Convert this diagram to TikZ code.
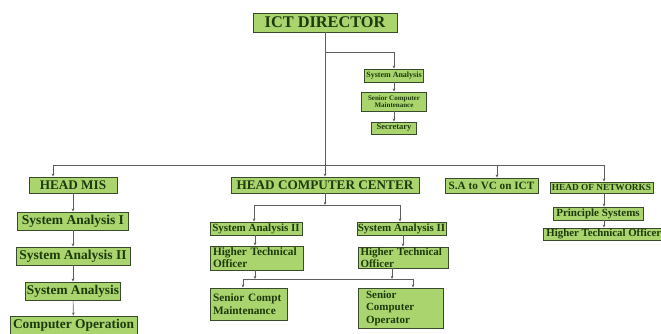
\documentclass[tikz,border=0pt]{standalone}
\usepackage{fontspec}
\setmainfont{Liberation Serif}
\usetikzlibrary{arrows.meta}

\definecolor{boxfill}{HTML}{A9D46E}
\definecolor{boxline}{HTML}{3A4A2C}
\definecolor{boxtext}{HTML}{1E3A0C}
\definecolor{linkgray}{HTML}{5E5E5E}

\newcommand{\unitfont}[2]{\fontsize{#1}{#2}\selectfont\bfseries}

\begin{document}
\begin{tikzpicture}[x=1pt, y=-1pt,
  unit/.style={draw=boxline, fill=boxfill, text=boxtext, line width=0.9pt,
    inner sep=0pt, anchor=center},
  link/.style={draw=linkgray, line width=0.6pt},
  arr/.style={link, -{Stealth[length=3.2pt, width=2.8pt]}}]
  \useasboundingbox (0,0) rectangle (661,333);

  % top level
  \node[unit, minimum width=144pt, minimum height=19pt, font=\unitfont{16.3}{18}] (dir) at (325,22.5) {ICT DIRECTOR};
  \node[unit, minimum width=59pt, minimum height=13pt, font=\unitfont{8}{9}] (sa) at (394,75.5) {System Analysis};
  \node[unit, minimum width=65pt, minimum height=19pt, align=center, font=\unitfont{7}{7.5}] (scm) at (394,101.5) {Senior Computer\\Maintenance};
  \node[unit, minimum width=45pt, minimum height=12pt, font=\unitfont{8.5}{9}] (sec) at (394,128) {Secretary};

  % heads
  \node[unit, minimum width=88pt, minimum height=16pt, font=\unitfont{13.2}{14}] (hmis) at (73,185) {HEAD MIS};
  \node[unit, minimum width=188pt, minimum height=16pt, font=\unitfont{13.2}{14}] (hcc) at (325,185) {HEAD COMPUTER CENTER};
  \node[unit, minimum width=93pt, minimum height=15pt, font=\unitfont{11.2}{12}] (savc) at (491.5,185.5) {S.A to VC on ICT};
  \node[unit, minimum width=103pt, minimum height=11pt, font=\unitfont{9.3}{10}] (hon) at (601.5,187.5) {HEAD OF NETWORKS};

  % MIS column
  \node[unit, minimum width=111pt, minimum height=18pt, font=\unitfont{13.5}{14}] (sa1) at (73,221) {System Analysis I};
  \node[unit, minimum width=114pt, minimum height=18pt, font=\unitfont{13.5}{14}] (sa2) at (73,256) {System Analysis II};
  \node[unit, minimum width=95pt, minimum height=18pt, font=\unitfont{13.3}{14}] (sa3) at (73,291) {System Analysis};
  \node[unit, minimum width=127pt, minimum height=19pt, font=\unitfont{13.4}{14}] (cop) at (73.5,325.5) {Computer Operation};

  % computer center
  \node[unit, minimum width=92pt, minimum height=13pt, font=\unitfont{11}{12}] (csa2l) at (256,228.5) {System Analysis II};
  \node[unit, minimum width=89pt, minimum height=13pt, font=\unitfont{11}{12}] (csa2r) at (401.5,228.5) {System Analysis II};
  \node[unit, text width=87pt, inner xsep=3pt, minimum height=24pt, align=left, font=\unitfont{11.3}{12}] (htol) at (256.5,258) {Higher Technical\\Officer};
  \node[unit, text width=85pt, inner xsep=2.5pt, minimum height=21pt, align=left, font=\unitfont{11}{11.5}] (htor) at (403,257.5) {Higher Technical\\Officer};
  \node[unit, text width=71pt, inner xsep=3pt, minimum height=32pt, align=left, font=\unitfont{11.3}{13}] (scmt) at (248.5,304) {Senior Compt\\Maintenance};
  \node[unit, text width=69pt, inner xsep=8pt, minimum height=40pt, align=left, font=\unitfont{11}{12.5}] (sco) at (400.5,308) {Senior\\Computer\\Operator};

  % networks
  \node[unit, minimum width=90pt, minimum height=13pt, font=\unitfont{11}{12}] (ps) at (598,213.5) {Principle Systems};
  \node[unit, anchor=west, inner xsep=3pt, minimum height=12pt, font=\unitfont{10.8}{12}] (htonet) at (543,234) {Higher Technical Officer};

  % joints
  \coordinate (topjoin) at (325,52);
  \coordinate (busW) at (53,165);
  \coordinate (busVC) at (497,165);
  \coordinate (busE) at (604,165);
  \coordinate (ccW) at (254,205);
  \coordinate (ccE) at (400,205);
  \coordinate (lowW) at (243,279);
  \coordinate (lowE) at (413,279);

  % director links
  \draw[arr] (dir.south) -- (dir.south |- hcc.north);
  \draw[arr] (topjoin) -| (sa.north);
  \draw[arr] (sa) -- (scm);
  \draw[arr] (scm) -- (sec);

  % main bus
  \draw[link] (busW) -- (busE);
  \draw[arr] (busW) -- (busW |- hmis.north);
  \draw[arr] (busVC) -- (busVC |- savc.north);
  \draw[arr] (busE) -- (busE |- hon.north);

  % MIS links
  \draw[arr] (hmis) -- (sa1);
  \draw[arr] (sa1) -- (sa2);
  \draw[arr] (sa2) -- (sa3);
  \draw[arr] (sa3) -- (cop);

  % computer center links
  \draw[arr] (hcc.south) -- (hcc.south |- ccW);
  \draw[link] (ccW) -- (ccE);
  \draw[arr] (ccW) -- (ccW |- csa2l.north);
  \draw[arr] (ccE) -- (ccE |- csa2r.north);
  \draw[arr] (csa2l.south -| 255,0) -- (htol.north -| 255,0);
  \draw[arr] (csa2r.south -| 403,0) -- (htor.north -| 403,0);
  \draw[arr] (htol.south -| 255,0) -- (lowW -| 255,0);
  \draw[arr] (htor.south -| 392,0) -- (lowE -| 392,0);
  \draw[link] (lowW) -- (lowE);
  \draw[arr] (lowW) -- (lowW |- scmt.north);
  \draw[arr] (lowE) -- (lowE |- sco.north);

  % network links
  \draw[arr] (busE |- hon.south) -- (busE |- ps.north);
  \draw[arr] (busE |- ps.south) -- (busE |- htonet.north);
\end{tikzpicture}
\end{document}
